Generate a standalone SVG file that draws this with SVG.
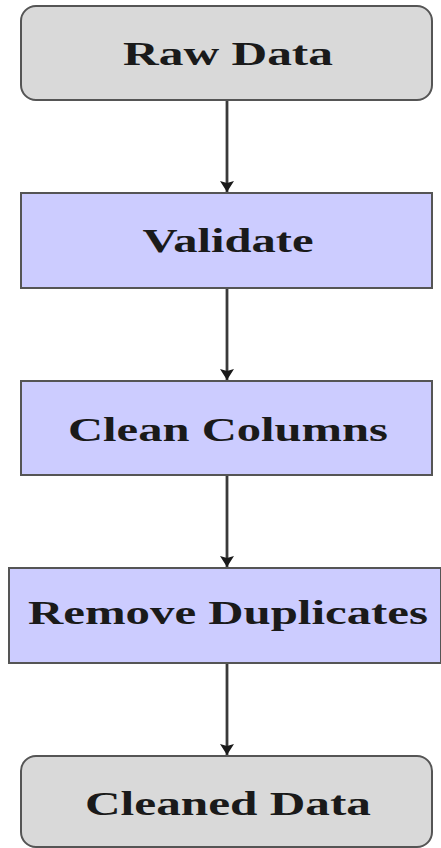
<svg xmlns="http://www.w3.org/2000/svg" width="441" height="848" viewBox="0 0 441 848">
<defs>
<style>
.term{fill:#d9d9d9;stroke:#555;stroke-width:2}
.proc{fill:#ccccff;stroke:#555;stroke-width:2}
.lbl{font-family:"Liberation Serif","DejaVu Serif",serif;font-weight:bold;font-size:33px;fill:#1a1a1a;text-anchor:middle}
.edge{stroke:#3a3a3a;stroke-width:2.8;fill:none}
</style>
<marker id="ah" viewBox="0 0 11 14" refX="11" refY="7" markerWidth="11" markerHeight="14" orient="auto" markerUnits="userSpaceOnUse">
<path d="M0,0 L11,7 L0,14 L2,7 z" fill="#1a1a1a"/>
</marker>
</defs>
<rect width="441" height="848" fill="#fff"/>
<g id="connectors">
<line class="edge" x1="227" y1="100" x2="227" y2="192" marker-end="url(#ah)"/>
<line class="edge" x1="227" y1="288" x2="227" y2="380" marker-end="url(#ah)"/>
<line class="edge" x1="227" y1="475" x2="227" y2="567" marker-end="url(#ah)"/>
<line class="edge" x1="227" y1="663" x2="227" y2="755" marker-end="url(#ah)"/>
</g>
<g id="raw">
<rect class="term" x="21" y="6" width="411" height="94" rx="15"/>
<text class="lbl" x="228" y="65" textLength="210" lengthAdjust="spacingAndGlyphs">Raw Data</text>
</g>
<g id="validate">
<rect class="proc" x="21" y="193" width="411" height="95"/>
<text class="lbl" x="228" y="252" textLength="171" lengthAdjust="spacingAndGlyphs">Validate</text>
</g>
<g id="clean">
<rect class="proc" x="21" y="381" width="411" height="94"/>
<text class="lbl" x="228" y="441" textLength="320" lengthAdjust="spacingAndGlyphs">Clean Columns</text>
</g>
<g id="dedup">
<rect class="proc" x="9" y="568" width="432" height="95"/>
<text class="lbl" x="228" y="624" textLength="400" lengthAdjust="spacingAndGlyphs">Remove Duplicates</text>
</g>
<g id="cleaned">
<rect class="term" x="21" y="756" width="411" height="91" rx="15"/>
<text class="lbl" x="228" y="815" textLength="286" lengthAdjust="spacingAndGlyphs">Cleaned Data</text>
</g>
</svg>
